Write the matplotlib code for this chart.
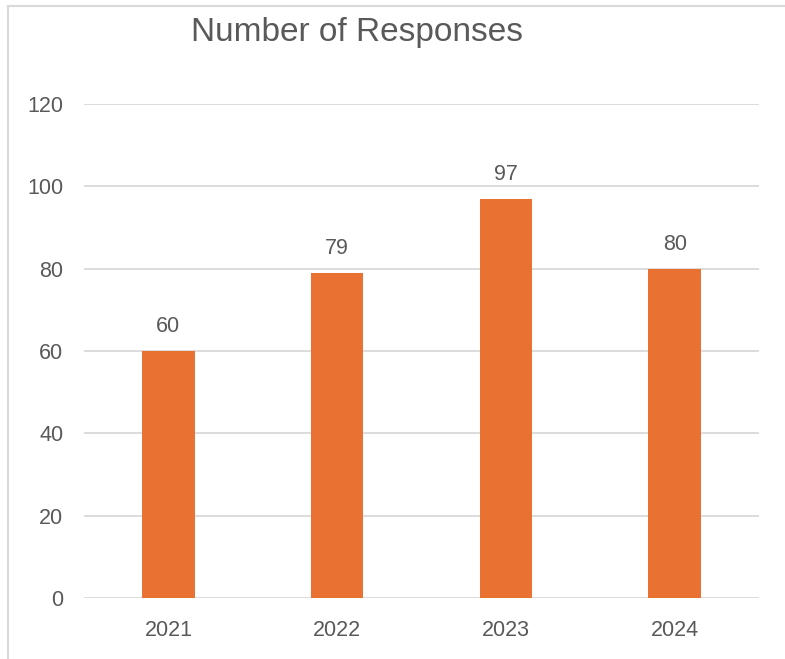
import matplotlib.pyplot as plt
from matplotlib.lines import Line2D

# Data
years = ["2021", "2022", "2023", "2024"]
responses = [60, 79, 97, 80]
y_ticks = [0, 20, 40, 60, 80, 100, 120]

BAR_COLOR = "#E97132"
TEXT_COLOR = "#595959"
GRID_COLOR = "#D9D9D9"

plt.rcParams["font.family"] = ["Liberation Sans", "DejaVu Sans"]

fig = plt.figure(figsize=(7.85, 6.59), dpi=100)
ax = fig.add_axes([84 / 785, 1 - 598 / 659, (759 - 84) / 785, (598 - 104) / 659])

x = range(len(years))
bars = ax.bar(x, responses, width=0.31, color=BAR_COLOR, zorder=3)

# Data labels above the bars
for b, v in zip(bars, responses):
    ax.annotate(str(v), (b.get_x() + b.get_width() / 2, v),
                xytext=(0, 10), textcoords="offset points",
                ha="center", va="bottom", fontsize=15.5, color=TEXT_COLOR)

ax.set_xlim(-0.5, len(years) - 0.5)
ax.set_ylim(0, 120)
ax.set_yticks(y_ticks)
ax.set_xticks(list(x))
ax.set_xticklabels(years)
ax.tick_params(axis="both", length=0, labelsize=15.5, labelcolor=TEXT_COLOR)
ax.tick_params(axis="y", pad=15)
ax.tick_params(axis="x", pad=16)
ax.yaxis.grid(True, color=GRID_COLOR, linewidth=1.3, zorder=0)
ax.set_axisbelow(True)
for s in ax.spines.values():
    s.set_visible(False)

fig.text(0.455, 0.95, "Number of Responses", ha="center", va="center",
         fontsize=24, color=TEXT_COLOR)

# Chart border (left and top edges visible)
fig.add_artist(Line2D([8 / 785, 8 / 785], [0, 1 - 6 / 659], color=GRID_COLOR,
                      linewidth=1.5, transform=fig.transFigure))
fig.add_artist(Line2D([8 / 785, 1], [1 - 6 / 659, 1 - 6 / 659], color=GRID_COLOR,
                      linewidth=1.5, transform=fig.transFigure))

fig.savefig("out.png", dpi=100)
